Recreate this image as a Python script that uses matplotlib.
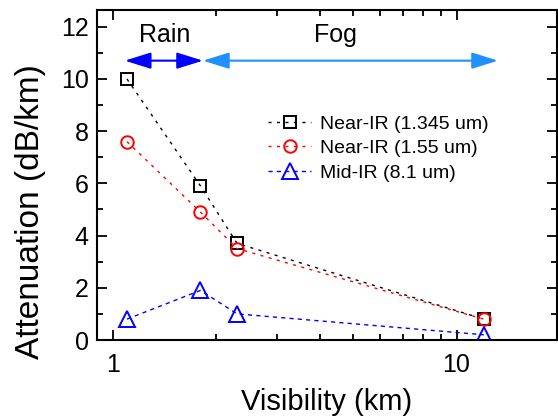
import matplotlib
matplotlib.use('Agg')
import matplotlib.pyplot as plt
from matplotlib.ticker import LogLocator, FixedLocator, NullFormatter

plt.rcParams['font.family'] = ['Liberation Sans', 'DejaVu Sans']

visibility = [1.1, 1.8, 2.3, 12.0]
near_ir_1345 = [10.0, 5.9, 3.7, 0.8]
near_ir_155 = [7.6, 4.9, 3.5, 0.8]
mid_ir_81 = [0.8, 1.9, 1.0, 0.2]
labels = ['Near-IR (1.345 um)', 'Near-IR (1.55 um)', 'Mid-IR (8.1 um)']

rain_range = (1.084, 1.83)
fog_range = (1.83, 13.2)
arrow_y = 10.7

fig = plt.figure(figsize=(5.58, 4.19), dpi=100)
ax = fig.add_axes([97 / 558, 79 / 419, 460 / 558, 330 / 419])

ax.plot(visibility, near_ir_1345, color='black', lw=1.0, dashes=(2.2, 3.9),
        marker='s', ms=8, mfc='none', mec='black', mew=1.4, label=labels[0])
ax.plot(visibility, near_ir_155, color='red', lw=1.0, dashes=(2.2, 3.9),
        marker='o', ms=9, mfc='none', mec='red', mew=1.4, label=labels[1])
ax.plot(visibility, mid_ir_81, color='blue', lw=1.0, dashes=(3.0, 3.0),
        marker='^', ms=12, mfc='none', mec='blue', mew=1.4, label=labels[2])

ax.set_xscale('log')
ax.set_xlim(0.9, 19.6)
ax.set_ylim(0, 12.64)

ax.annotate('', xy=(rain_range[1], arrow_y), xytext=(rain_range[0], arrow_y),
            arrowprops=dict(arrowstyle='<|-|>,head_length=0.8,head_width=0.25',
                            color='blue', lw=1.5, mutation_scale=20,
                            shrinkA=0, shrinkB=0))
ax.annotate('', xy=(fog_range[1], arrow_y), xytext=(fog_range[0], arrow_y),
            arrowprops=dict(arrowstyle='<|-|>,head_length=0.8,head_width=0.25',
                            color='#1e90ff', lw=1.5, mutation_scale=20,
                            shrinkA=0, shrinkB=0))
ax.text(1.417, 11.7, 'Rain', ha='center', va='center', fontsize=18)
ax.text(4.43, 11.7, 'Fog', ha='center', va='center', fontsize=18)

ax.set_xticks([1, 10])
ax.set_xticklabels(['1', '10'])
ax.xaxis.set_minor_locator(LogLocator(base=10, subs=range(2, 10)))
ax.xaxis.set_minor_formatter(NullFormatter())
ax.set_yticks(range(0, 13, 2))
ax.yaxis.set_minor_locator(FixedLocator(range(1, 13, 2)))

ax.tick_params(which='both', direction='in', top=True, right=True,
               labelsize=18, width=1.3)
ax.tick_params(which='major', length=7)
ax.tick_params(which='minor', length=4)
ax.tick_params(axis='x', pad=9)
ax.tick_params(axis='y', pad=6)
for s in ax.spines.values():
    s.set_linewidth(1.5)

ax.set_xlabel('Visibility (km)', fontsize=21, labelpad=8)
ax.set_ylabel('Attenuation (dB/km)', fontsize=24)
ax.yaxis.set_label_coords(-0.11, 0.388)

ax.legend(loc='upper left', bbox_to_anchor=(0.372, 0.681), frameon=False,
          fontsize=14, handlelength=2.2, handletextpad=0.45, labelspacing=0.35,
          borderpad=0, borderaxespad=0)

fig.savefig('out.png', dpi=100)
